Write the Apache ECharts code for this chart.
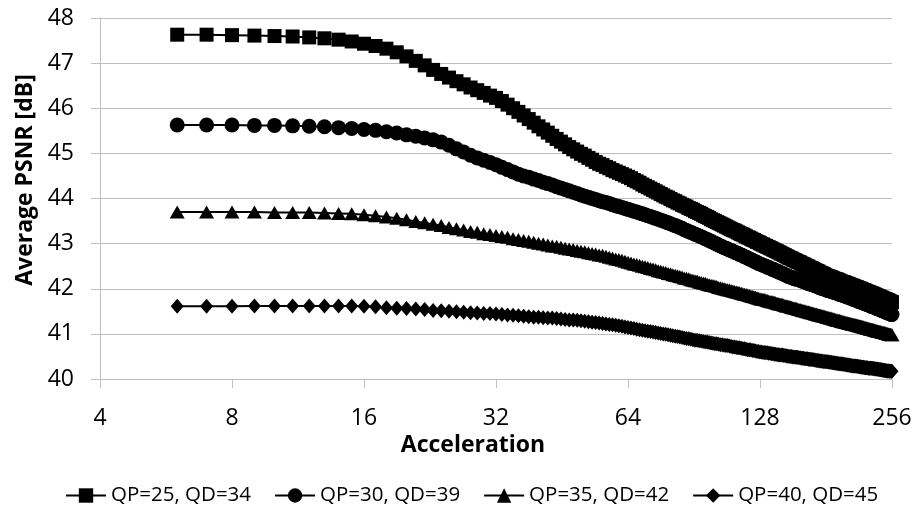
<!DOCTYPE html>
<html>
<head>
<meta charset="utf-8">
<script src="https://cdn.jsdelivr.net/npm/echarts@6/dist/echarts.min.js"></script>
<style>
html,body{margin:0;padding:0;background:#fff;}
#c{width:915px;height:508px;}
</style>
</head>
<body>
<div id="c"></div>
<script>
var accel = [
6,7,8,9,10,11,12,13,14,15,
16,17,18,19,20,21,22,23,24,25,
26,27,28,29,30,31,32,33,34,35,
36,37,38,39,40,41,42,43,44,45,
46,47,48,49,50,51,52,53,54,55,
56,57,58,59,60,61,62,63,64,65,
66,67,68,69,70,71,72,73,74,75,
76,77,78,79,80,81,82,83,84,85,
86,87,88,89,90,91,92,93,94,95,
96,97,98,99,100,101,102,103,104,105,
106,107,108,109,110,111,112,113,114,115,
116,117,118,119,120,121,122,123,124,125,
126,127,128,129,130,131,132,133,134,135,
136,137,138,139,140,141,142,143,144,145,
146,147,148,149,150,151,152,153,154,155,
156,157,158,159,160,161,162,163,164,165,
166,167,168,169,170,171,172,173,174,175,
176,177,178,179,180,181,182,183,184,185,
186,187,188,189,190,191,192,193,194,195,
196,197,198,199,200,201,202,203,204,205,
206,207,208,209,210,211,212,213,214,215,
216,217,218,219,220,221,222,223,224,225,
226,227,228,229,230,231,232,233,234,235,
236,237,238,239,240,241,242,243,244,245,
246,247,248,249,250,251,252,253,254,255,
256];

var psnrQP25 = [
47.63,47.63,47.62,47.61,47.60,47.59,47.57,47.55,47.52,47.48,
47.43,47.38,47.32,47.24,47.15,47.05,46.95,46.85,46.76,46.68,
46.60,46.53,46.46,46.40,46.34,46.28,46.23,46.16,46.08,46.00,
45.92,45.84,45.76,45.68,45.60,45.53,45.46,45.39,45.32,45.26,
45.20,45.14,45.09,45.04,44.99,44.95,44.90,44.86,44.81,44.77,
44.74,44.70,44.67,44.63,44.60,44.57,44.54,44.51,44.48,44.45,
44.41,44.38,44.35,44.31,44.28,44.25,44.22,44.19,44.16,44.13,
44.10,44.07,44.04,44.02,43.99,43.96,43.94,43.91,43.89,43.86,
43.84,43.82,43.79,43.77,43.75,43.72,43.70,43.68,43.66,43.63,
43.61,43.59,43.57,43.54,43.52,43.50,43.48,43.46,43.44,43.42,
43.40,43.38,43.36,43.34,43.32,43.30,43.29,43.27,43.25,43.23,
43.21,43.20,43.18,43.16,43.14,43.13,43.11,43.09,43.08,43.06,
43.04,43.03,43.01,42.99,42.98,42.96,42.95,42.93,42.92,42.90,
42.89,42.87,42.86,42.84,42.83,42.81,42.80,42.78,42.77,42.75,
42.74,42.72,42.71,42.69,42.68,42.67,42.65,42.64,42.63,42.61,
42.60,42.59,42.58,42.56,42.55,42.54,42.52,42.51,42.50,42.49,
42.47,42.46,42.45,42.44,42.42,42.41,42.40,42.39,42.38,42.36,
42.35,42.34,42.33,42.32,42.30,42.29,42.28,42.27,42.27,42.26,
42.25,42.24,42.23,42.22,42.21,42.21,42.20,42.19,42.18,42.17,
42.16,42.15,42.15,42.14,42.13,42.12,42.11,42.11,42.10,42.09,
42.08,42.07,42.07,42.06,42.05,42.04,42.04,42.03,42.02,42.01,
42.00,42.00,41.99,41.98,41.97,41.97,41.96,41.95,41.94,41.93,
41.93,41.92,41.91,41.90,41.90,41.89,41.88,41.87,41.87,41.86,
41.85,41.84,41.83,41.83,41.82,41.81,41.80,41.80,41.79,41.78,
41.77,41.77,41.76,41.75,41.74,41.74,41.73,41.72,41.71,41.71,
41.70];

var psnrQP30 = [
45.63,45.63,45.63,45.62,45.62,45.61,45.60,45.59,45.57,45.55,
45.53,45.51,45.48,45.45,45.41,45.38,45.34,45.30,45.25,45.18,
45.10,45.03,44.96,44.90,44.85,44.80,44.75,44.69,44.64,44.59,
44.54,44.50,44.47,44.43,44.40,44.36,44.33,44.30,44.26,44.23,
44.20,44.17,44.14,44.11,44.08,44.05,44.03,44.00,43.98,43.95,
43.93,43.91,43.89,43.86,43.84,43.82,43.80,43.78,43.76,43.74,
43.72,43.70,43.68,43.66,43.64,43.62,43.60,43.58,43.56,43.54,
43.52,43.50,43.48,43.46,43.44,43.42,43.40,43.38,43.36,43.34,
43.31,43.29,43.27,43.25,43.23,43.21,43.19,43.17,43.15,43.13,
43.11,43.09,43.07,43.05,43.03,43.01,42.99,42.97,42.95,42.93,
42.91,42.90,42.88,42.86,42.85,42.83,42.81,42.80,42.78,42.76,
42.75,42.73,42.71,42.70,42.68,42.66,42.65,42.63,42.61,42.60,
42.58,42.56,42.55,42.54,42.52,42.51,42.50,42.48,42.47,42.46,
42.44,42.43,42.42,42.40,42.39,42.38,42.36,42.35,42.34,42.32,
42.31,42.30,42.28,42.27,42.26,42.25,42.24,42.23,42.22,42.21,
42.21,42.20,42.19,42.18,42.17,42.16,42.15,42.14,42.13,42.12,
42.11,42.10,42.10,42.09,42.08,42.07,42.06,42.05,42.04,42.03,
42.02,42.01,42.00,42.00,41.99,41.98,41.97,41.96,41.96,41.95,
41.94,41.94,41.93,41.92,41.91,41.91,41.90,41.89,41.88,41.88,
41.87,41.86,41.85,41.85,41.84,41.83,41.82,41.82,41.81,41.80,
41.79,41.79,41.78,41.77,41.76,41.75,41.75,41.74,41.73,41.72,
41.72,41.71,41.70,41.69,41.69,41.68,41.67,41.67,41.66,41.65,
41.64,41.64,41.63,41.62,41.61,41.61,41.60,41.59,41.59,41.58,
41.57,41.56,41.56,41.55,41.54,41.53,41.53,41.52,41.51,41.51,
41.50,41.49,41.48,41.48,41.47,41.46,41.46,41.45,41.44,41.43,
41.43];

var psnrQP35 = [
43.70,43.70,43.70,43.70,43.69,43.69,43.69,43.68,43.67,43.66,
43.64,43.62,43.59,43.56,43.53,43.49,43.46,43.43,43.40,43.36,
43.33,43.30,43.27,43.25,43.22,43.20,43.18,43.16,43.14,43.11,
43.09,43.07,43.05,43.03,43.01,42.99,42.97,42.95,42.94,42.92,
42.90,42.88,42.87,42.85,42.83,42.82,42.80,42.78,42.77,42.75,
42.74,42.72,42.70,42.68,42.66,42.65,42.63,42.61,42.59,42.57,
42.55,42.54,42.52,42.50,42.49,42.47,42.45,42.44,42.42,42.40,
42.39,42.37,42.36,42.34,42.33,42.31,42.30,42.29,42.27,42.26,
42.24,42.23,42.22,42.20,42.19,42.18,42.17,42.15,42.14,42.13,
42.12,42.10,42.09,42.08,42.07,42.06,42.05,42.03,42.02,42.01,
42.00,41.99,41.98,41.97,41.96,41.95,41.94,41.93,41.92,41.91,
41.90,41.89,41.88,41.87,41.86,41.85,41.84,41.83,41.82,41.81,
41.80,41.79,41.78,41.77,41.77,41.76,41.75,41.74,41.73,41.72,
41.71,41.71,41.70,41.69,41.68,41.67,41.66,41.66,41.65,41.64,
41.63,41.62,41.62,41.61,41.60,41.59,41.58,41.58,41.57,41.56,
41.55,41.54,41.54,41.53,41.52,41.51,41.51,41.50,41.49,41.49,
41.48,41.47,41.47,41.46,41.45,41.44,41.44,41.43,41.42,41.42,
41.41,41.40,41.40,41.39,41.39,41.38,41.37,41.37,41.36,41.35,
41.35,41.34,41.33,41.33,41.32,41.31,41.31,41.30,41.30,41.29,
41.28,41.28,41.27,41.27,41.26,41.25,41.25,41.24,41.24,41.23,
41.23,41.22,41.22,41.21,41.21,41.20,41.20,41.19,41.19,41.18,
41.18,41.17,41.17,41.16,41.16,41.15,41.14,41.14,41.13,41.13,
41.12,41.12,41.11,41.11,41.10,41.10,41.09,41.09,41.08,41.08,
41.07,41.07,41.06,41.06,41.05,41.05,41.04,41.04,41.03,41.03,
41.03,41.02,41.02,41.01,41.01,41.00,41.00,40.99,40.99,40.98,
40.98];

var psnrQP40 = [
41.61,41.61,41.61,41.62,41.62,41.62,41.62,41.62,41.62,41.62,
41.61,41.60,41.58,41.57,41.56,41.55,41.54,41.52,41.51,41.50,
41.49,41.48,41.47,41.46,41.45,41.45,41.44,41.43,41.42,41.41,
41.40,41.39,41.38,41.37,41.37,41.36,41.35,41.35,41.34,41.33,
41.32,41.31,41.31,41.30,41.29,41.28,41.27,41.26,41.25,41.24,
41.23,41.22,41.21,41.20,41.19,41.18,41.17,41.15,41.14,41.13,
41.12,41.10,41.09,41.08,41.07,41.06,41.05,41.04,41.03,41.02,
41.01,41.00,40.99,40.98,40.97,40.96,40.95,40.94,40.93,40.92,
40.91,40.90,40.89,40.88,40.87,40.86,40.86,40.85,40.84,40.83,
40.82,40.82,40.81,40.80,40.79,40.78,40.78,40.77,40.76,40.76,
40.75,40.74,40.74,40.73,40.72,40.71,40.71,40.70,40.69,40.69,
40.68,40.67,40.67,40.66,40.65,40.65,40.64,40.63,40.63,40.62,
40.61,40.61,40.60,40.60,40.59,40.59,40.58,40.58,40.57,40.57,
40.56,40.56,40.55,40.55,40.54,40.54,40.53,40.53,40.53,40.52,
40.52,40.51,40.51,40.50,40.50,40.50,40.49,40.49,40.48,40.48,
40.48,40.47,40.47,40.46,40.46,40.46,40.45,40.45,40.45,40.44,
40.44,40.43,40.43,40.43,40.42,40.42,40.41,40.41,40.41,40.40,
40.40,40.40,40.39,40.39,40.39,40.38,40.38,40.38,40.37,40.37,
40.37,40.36,40.36,40.36,40.35,40.35,40.35,40.34,40.34,40.34,
40.33,40.33,40.33,40.32,40.32,40.32,40.31,40.31,40.31,40.30,
40.30,40.30,40.29,40.29,40.29,40.29,40.28,40.28,40.28,40.27,
40.27,40.27,40.26,40.26,40.26,40.26,40.25,40.25,40.25,40.25,
40.24,40.24,40.24,40.24,40.24,40.23,40.23,40.23,40.22,40.22,
40.22,40.22,40.21,40.21,40.21,40.21,40.20,40.20,40.20,40.19,
40.19,40.19,40.19,40.18,40.18,40.18,40.18,40.17,40.17,40.17,
40.17];

var seriesNames = ['QP=25, QD=34', 'QP=30, QD=39', 'QP=35, QD=42', 'QP=40, QD=45'];
var xTicks = [4, 8, 16, 32, 64, 128, 256];
var yTicks = [40, 41, 42, 43, 44, 45, 46, 47, 48];

var chart = echarts.init(document.getElementById('c'), null, {renderer: 'canvas'});
function pairs(ys) { return accel.map(function (a, i) { return [a, ys[i]]; }); }
var gridCol = '#bfbfbf';
var fontFam = '"Open Sans", "Liberation Sans", sans-serif';

function mk(name, ys, symbol, size) {
  return {
    name: name, type: 'line', data: pairs(ys),
    symbol: symbol, symbolSize: size, showAllSymbol: true,
    clip: false,
    lineStyle: {color: '#000', width: 2},
    itemStyle: {color: '#000', borderWidth: 0},
    emphasis: {disabled: true}
  };
}

chart.setOption({
  animation: false,
  backgroundColor: '#fff',
  grid: {left: 100, right: 23, top: 18, bottom: 129, containLabel: false},
  xAxis: {
    type: 'log', logBase: 2, min: xTicks[0], max: xTicks[xTicks.length - 1], interval: 1,
    axisLine: {show: true, lineStyle: {color: gridCol, width: 1}},
    axisTick: {show: true, length: 9, lineStyle: {color: gridCol}},
    axisLabel: {fontFamily: fontFam, fontSize: 23, color: '#000', margin: 28, lineHeight: 23,
      formatter: function (v) { return String(Math.round(v)); }},
    splitLine: {show: false},
    minorTick: {show: false}, minorSplitLine: {show: false}
  },
  yAxis: {
    type: 'value', min: yTicks[0], max: yTicks[yTicks.length - 1], interval: 1,
    axisLine: {show: true, lineStyle: {color: gridCol, width: 1}},
    axisTick: {show: true, length: 9, lineStyle: {color: gridCol}},
    axisLabel: {fontFamily: fontFam, fontSize: 23, color: '#000', margin: 26},
    splitLine: {show: true, lineStyle: {color: gridCol, width: 1}}
  },
  legend: {
    left: 60, top: 480, itemWidth: 40, itemHeight: 18, itemGap: 23,
    textStyle: {fontFamily: fontFam, fontSize: 20.5, color: '#000'},
    data: seriesNames
  },
  graphic: [
    {type: 'text', x: 25, y: 180, rotation: Math.PI / 2,
      style: {text: 'Average PSNR [dB]', font: 'bold 23px ' + fontFam, fill: '#000', textAlign: 'center', textVerticalAlign: 'middle'}},
    {type: 'text', x: 473, y: 445,
      style: {text: 'Acceleration', font: 'bold 23px ' + fontFam, fill: '#000', textAlign: 'center', textVerticalAlign: 'middle'}}
  ],
  series: [
    mk(seriesNames[0], psnrQP25, 'rect', [14, 14]),
    mk(seriesNames[1], psnrQP30, 'circle', 15),
    mk(seriesNames[2], psnrQP35, 'triangle', [15, 13]),
    mk(seriesNames[3], psnrQP40, 'diamond', [13, 15])
  ]
});
</script>
</body>
</html>
